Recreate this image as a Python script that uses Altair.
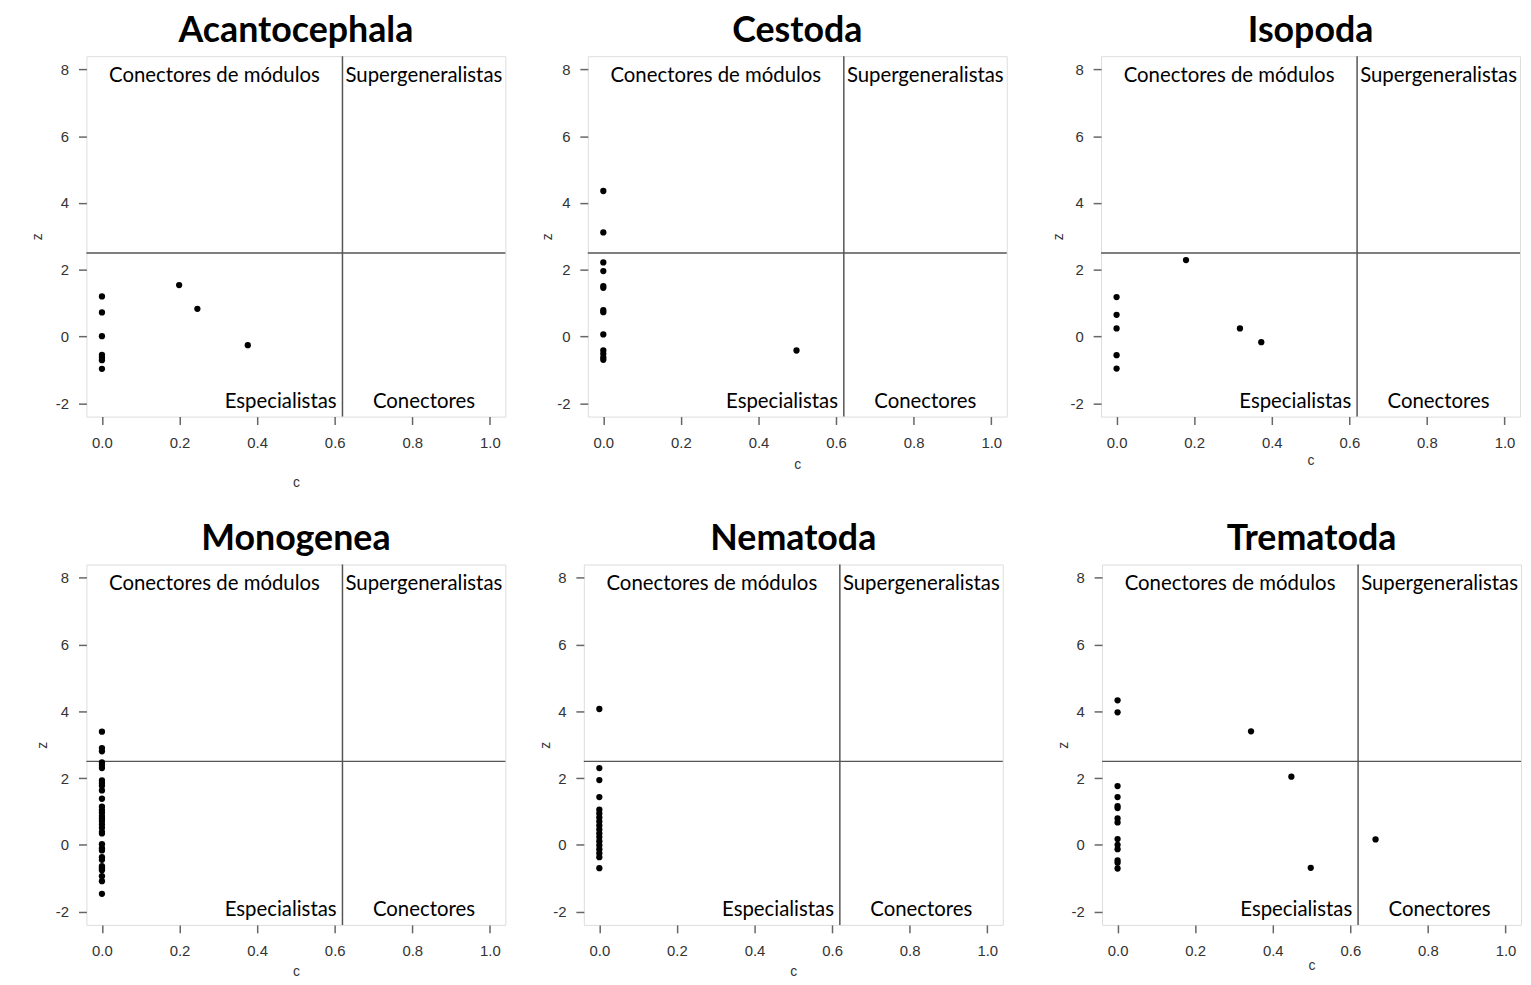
import altair as alt
import pandas as pd

# ---------------- data ----------------
panel_names = ["Acantocephala", "Cestoda", "Isopoda", "Monogenea", "Nematoda", "Trematoda"]

acanto_c = [0, 0, 0, 0, 0, 0, 0, 0.199, 0.246, 0.376]
acanto_z = [1.20, 0.72, 0.01, -0.55, -0.63, -0.71, -0.97, 1.54, 0.83, -0.26]

cestoda_c = [0, 0, 0, 0, 0, 0, 0, 0, 0, 0, 0, 0, 0, 0.498]
cestoda_z = [4.36, 3.12, 2.22, 1.96, 1.51, 1.46, 0.79, 0.73, 0.06, -0.42, -0.52, -0.63, -0.70, -0.42]

isopoda_c = [0, 0, 0, 0, 0, 0.179, 0.318, 0.373]
isopoda_z = [1.18, 0.65, 0.24, -0.56, -0.96, 2.29, 0.24, -0.17]

monogenea_z = [3.39, 2.90, 2.80, 2.47, 2.39, 2.30, 1.93, 1.85, 1.77, 1.63, 1.38,
               1.14, 1.04, 0.96, 0.86, 0.79, 0.71, 0.61, 0.51, 0.39, 0.34,
               0.02, -0.10, -0.17, -0.37, -0.45, -0.64, -0.70, -0.76, -0.94, -1.09, -1.47]
monogenea_c = [0] * len(monogenea_z)

nematoda_z = [4.07, 2.30, 1.94, 1.43, 1.05, 0.94, 0.82, 0.70, 0.58, 0.46, 0.34,
              0.23, 0.11, -0.01, -0.13, -0.25, -0.37, -0.70]
nematoda_c = [0] * len(nematoda_z)

trematoda_c = [0, 0, 0, 0, 0, 0, 0, 0, 0, 0, 0, 0, 0, 0, 0.344, 0.448, 0.498, 0.665]
trematoda_z = [4.33, 3.97, 1.76, 1.43, 1.16, 1.10, 0.79, 0.67, 0.17, 0.00, -0.13, -0.47,
               -0.54, -0.71, 3.40, 2.04, -0.69, 0.16]

panel_c = [acanto_c, cestoda_c, isopoda_c, monogenea_c, nematoda_c, trematoda_c]
panel_z = [acanto_z, cestoda_z, isopoda_z, monogenea_z, nematoda_z, trematoda_z]

C_THRESHOLD = 0.62
Z_THRESHOLD = 2.5
x_ticks = [0.0, 0.2, 0.4, 0.6, 0.8, 1.0]
y_ticks = [-2, 0, 2, 4, 6, 8]
X_DOMAIN = [-0.04, 1.04]
Y_DOMAIN = [-2.4, 8.4]

label_top_left = "Conectores de módulos"
label_top_right = "Supergeneralistas"
label_bottom_left = "Especialistas"
label_bottom_right = "Conectores"

# ---------------- layout / style ----------------
W, H = 422, 363
# per panel: y-axis extent, z title x, c title y, x-axis extent
layout = [
    dict(yext=78, ztx=-49, cty=66, xext=70),
    dict(yext=80, ztx=-41, cty=48, xext=70),
    dict(yext=92, ztx=-43, cty=44, xext=70),
    dict(yext=78, ztx=-44, cty=47, xext=54),
    dict(yext=76, ztx=-39, cty=47, xext=54),
    dict(yext=97, ztx=-39, cty=41, xext=54),
]

AX_GRAY = "#333333"
LINE_GRAY = "#555555"
TICK_FONT = "Liberation Sans"
LABEL_FONT = "Lato"


def make_panel(name, c, z, yext, ztx, cty, xext):
    df = pd.DataFrame({"c": c, "z": z})
    xs = alt.Scale(domain=X_DOMAIN, nice=False, zero=False)
    ys = alt.Scale(domain=Y_DOMAIN, nice=False, zero=False)
    xaxis = alt.Axis(values=x_ticks, format=".1f", title="c", domain=False, grid=False,
                     tickSize=8, tickColor="#666666", tickWidth=1.5, labelPadding=11,
                     labelFont=TICK_FONT, labelFontSize=15, labelColor=AX_GRAY,
                     labelFlush=False, labelOverlap=False,
                     titleFont=TICK_FONT, titleFontSize=14, titleFontWeight="normal",
                     titleColor=AX_GRAY, titleY=cty, titleBaseline="middle",
                     minExtent=xext, maxExtent=xext)
    yaxis = alt.Axis(values=y_ticks, labelExpr="'' + datum.value", title="z",
                     domain=False, grid=False,
                     tickSize=8, tickColor="#666666", tickWidth=1.5, labelPadding=10,
                     labelFont=TICK_FONT, labelFontSize=15, labelColor=AX_GRAY,
                     labelFlush=False, labelOverlap=False,
                     titleFont=TICK_FONT, titleFontSize=14, titleFontWeight="normal",
                     titleColor=AX_GRAY, titleX=ztx, titleBaseline="middle",
                     minExtent=yext, maxExtent=yext)

    pts = alt.Chart(df).mark_circle(size=40, color="black", opacity=1).encode(
        x=alt.X("c:Q", scale=xs, axis=xaxis),
        y=alt.Y("z:Q", scale=ys, axis=yaxis),
    )
    vline = alt.Chart(pd.DataFrame({"c": [C_THRESHOLD]})).mark_rule(
        color=LINE_GRAY, strokeWidth=1.5).encode(x="c:Q")
    hline = alt.Chart(pd.DataFrame({"z": [Z_THRESHOLD]})).mark_rule(
        color=LINE_GRAY, strokeWidth=1.5).encode(y="z:Q")

    left_mid = (X_DOMAIN[0] + C_THRESHOLD) / 2
    right_mid = (C_THRESHOLD + X_DOMAIN[1]) / 2
    top_z = Y_DOMAIN[1] - 0.6
    bot_z = Y_DOMAIN[0] + 0.45
    centred = pd.DataFrame({
        "label": [label_top_left, label_top_right, label_bottom_right],
        "c": [left_mid, right_mid, right_mid],
        "z": [top_z, top_z, bot_z],
    })
    txt_c = alt.Chart(centred).mark_text(font=LABEL_FONT, fontSize=20.5, color="black",
                                         align="center", baseline="middle").encode(
        x="c:Q", y="z:Q", text="label:N")
    right = pd.DataFrame({"label": [label_bottom_left], "c": [C_THRESHOLD - 0.015], "z": [bot_z]})
    txt_r = alt.Chart(right).mark_text(font=LABEL_FONT, fontSize=20.5, color="black",
                                       align="right", baseline="middle").encode(
        x="c:Q", y="z:Q", text="label:N")

    return alt.layer(vline, hline, pts, txt_c, txt_r).properties(
        width=W, height=H,
        title=alt.TitleParams(name, font=LABEL_FONT, fontSize=36, fontWeight="bold",
                              color="black", anchor="middle", frame="group", offset=6),
    )


panels = [make_panel(panel_names[i], panel_c[i], panel_z[i], **layout[i]) for i in range(6)]

row1 = alt.hconcat(*panels[:3], spacing=0)
row2 = alt.hconcat(*panels[3:], spacing=0)
chart = alt.vconcat(row1, row2, spacing=30, padding=0).configure_view(
    stroke="#666666", strokeWidth=1.5
).configure(background="white")

chart.save("out.html", embed_options={"renderer": "svg", "actions": False})
